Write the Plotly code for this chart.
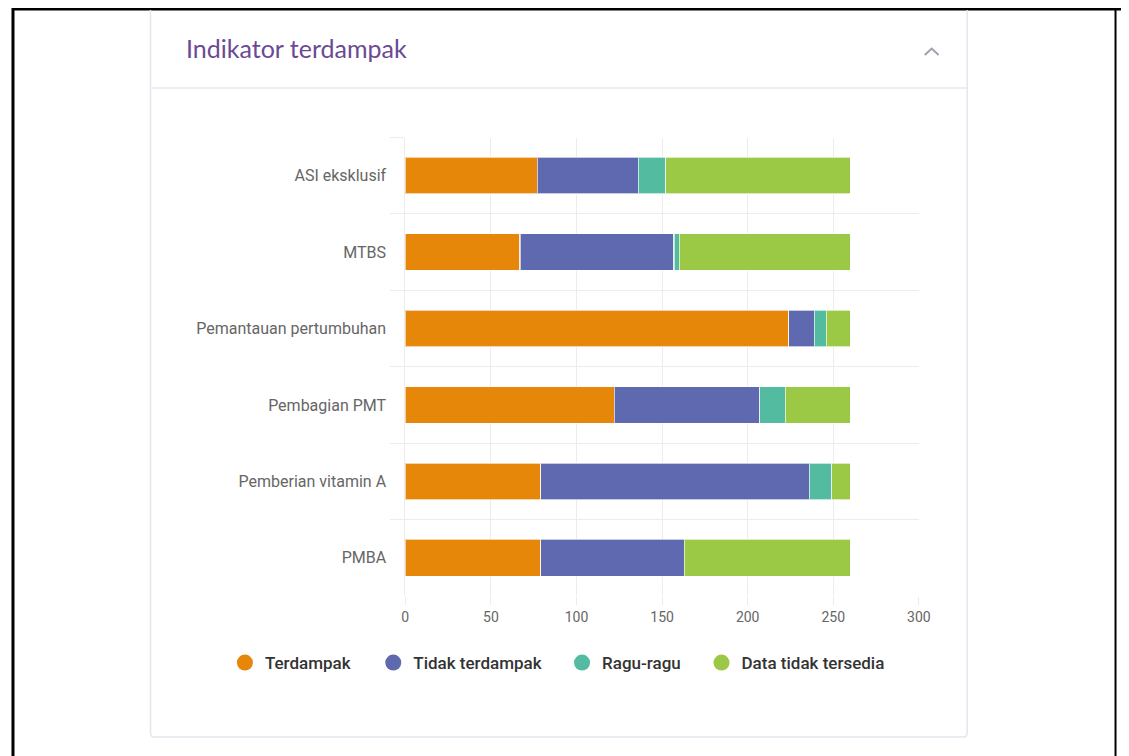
import plotly.graph_objects as go

categories = ["ASI eksklusif", "MTBS", "Pemantauan pertumbuhan", "Pembagian PMT",
              "Pemberian vitamin A", "PMBA"]
terdampak = [77, 67, 224, 122, 79, 79]
tidak_terdampak = [59, 90, 15, 85, 157, 84]
ragu_ragu = [16, 3, 7, 15, 13, 0]
data_tidak_tersedia = [108, 100, 14, 38, 11, 97]

series_names = ["Terdampak", "Tidak terdampak", "Ragu-ragu", "Data tidak tersedia"]
series_values = [terdampak, tidak_terdampak, ragu_ragu, data_tidak_tersedia]
colors = ["#E6870A", "#5E69B0", "#52BBA0", "#9BC946"]
x_ticks = [0, 50, 100, 150, 200, 250, 300]

# the page has an 8px body margin; figure fills the rest of the window
OFF = 8
W, H = 1129 - OFF, 756 - OFF
def px(x):
    return (x - OFF) / W
def py(y):
    return 1 - (y - OFF) / H

fig = go.Figure()
for name, vals, col in zip(series_names, series_values, colors):
    fig.add_trace(go.Bar(
        y=categories, x=vals, name=name, orientation="h",
        marker=dict(color=col, line=dict(color="rgba(255,255,255,0.65)", width=1.2)),
        showlegend=False,
    ))

legend_ids = ["legend", "legend2", "legend3", "legend4"]
legend_x = [224, 374.5, 566, 707.5]
for name, col, lid in zip(series_names, colors, legend_ids):
    fig.add_trace(go.Scatter(
        x=[None], y=[None], mode="markers", name=name, legend=lid,
        marker=dict(color=col, size=16, symbol="circle"),
        showlegend=True,
    ))

grid_col = "#ececec"
layout_legends = {}
for lid, lx in zip(legend_ids, legend_x):
    layout_legends[lid] = dict(
        x=px(lx), y=py(663), xanchor="left", yanchor="middle",
        orientation="h", bgcolor="rgba(0,0,0,0)", borderwidth=0,
        font=dict(family="Roboto", size=17, color="#333333", weight=500),
    )

shapes = []
# outer black frame
shapes.append(dict(type="line", xref="paper", yref="paper", x0=px(9), x1=px(9), y0=py(8), y1=py(770),
                   line=dict(color="black", width=3)))
shapes.append(dict(type="line", xref="paper", yref="paper", x0=px(8), x1=px(1135), y0=py(9), y1=py(9),
                   line=dict(color="black", width=3)))
shapes.append(dict(type="line", xref="paper", yref="paper", x0=px(1127.5), x1=px(1127.5), y0=py(8), y1=py(770),
                   line=dict(color="black", width=2)))
# card
card_path = (f"M {px(148.5)},{py(10)} L {px(148.5)},{py(733)} "
             f"Q {px(148.5)},{py(737)} {px(152.5)},{py(737)} "
             f"L {px(973)},{py(737)} Q {px(977)},{py(737)} {px(977)},{py(733)} "
             f"L {px(977)},{py(10)}")
shapes.append(dict(type="path", xref="paper", yref="paper", path=card_path,
                   line=dict(color="#e3e6ee", width=1.5)))
shapes.append(dict(type="line", xref="paper", yref="paper", x0=px(149), x1=px(977), y0=py(88), y1=py(88),
                   line=dict(color="#e6e9f0", width=1.5)))
# chevron
chev = f"M {px(934)},{py(55)} L {px(941)},{py(48.5)} L {px(948)},{py(55)}"
shapes.append(dict(type="path", xref="paper", yref="paper", path=chev,
                   line=dict(color="#9ea3ab", width=2)))

fig.update_layout(
    width=W, height=H,
    margin=dict(l=0, r=0, t=0, b=0),
    paper_bgcolor="white", plot_bgcolor="white",
    barmode="stack", bargap=0.52,
    font=dict(family="Roboto", color="#666666"),
    shapes=shapes,
    annotations=[dict(text="Indikator terdampak", xref="paper", yref="paper",
                      x=px(182), y=py(48), xanchor="left", yanchor="middle", showarrow=False,
                      font=dict(family="Lato", size=25, color="#6B4A93"))],
    xaxis=dict(domain=[px(407), px(928)], range=[0, 300], tickvals=x_ticks,
               showgrid=True, gridcolor=grid_col, gridwidth=1, zeroline=False,
               ticks="outside", ticklen=8, tickcolor=grid_col,
               tickfont=dict(family="Roboto", size=14, color="#666666"),
               showline=False, fixedrange=True),
    yaxis=dict(domain=[py(596), py(137.5)], autorange="reversed", type="category",
               showgrid=True, gridcolor=grid_col, tickson="boundaries",
               ticks="outside", ticklen=14, tickcolor=grid_col, ticklabelstandoff=15,
               tickfont=dict(family="Roboto", size=16, color="#666666"),
               showline=True, linecolor=grid_col, linewidth=1, fixedrange=True),
    **layout_legends,
)

fig.write_html("out.html")
